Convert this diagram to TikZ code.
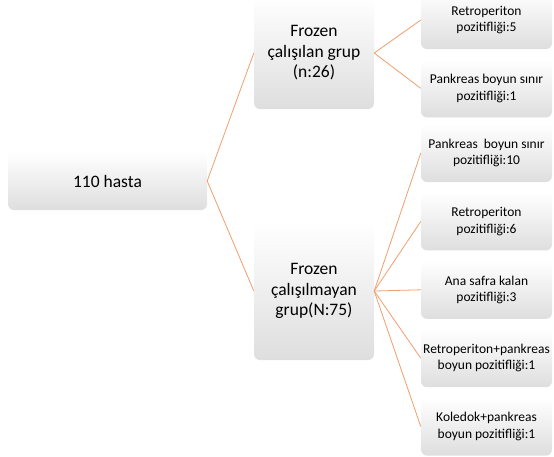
\documentclass[tikz,border=0pt]{standalone}
\usepackage{fontspec}
\setmainfont{Carlito}
\usetikzlibrary{positioning}
\definecolor{linkclr}{RGB}{240,158,108}

\begin{document}
\begin{tikzpicture}[x=1pt, y=-1pt, node distance=10pt,
    box/.style={rectangle, rounded corners=6pt, top color=white, middle color=black!2, bottom color=black!13, align=center, inner sep=2pt},
    bigbox/.style={box, font=\fontsize{17.5}{20.5}\selectfont},
    smallbox/.style={box, minimum width=131pt, minimum height=58pt, font=\fontsize{13.5}{16.5}\selectfont},
    link/.style={draw=linkclr, line width=0.8pt}]
    \useasboundingbox (0,0) rectangle (554,456);
    \clip (0,0) rectangle (554,456);

    % Root
    \node [bigbox, minimum width=199pt, minimum height=58pt] (root) at (107.5,181) {110 hasta};

    % Frozen group
    \node [bigbox, minimum width=120pt, minimum height=112pt] (frozen) at (314,53) {Frozen\\çalışılan grup\\(n:26)};
    \node [smallbox] (fr_retro) at (486.5,20) {Retroperiton\\pozitifliği:5};
    \node [smallbox, below=of fr_retro] (fr_pank) {Pankreas boyun sınır\\pozitifliği:1};

    % Non-frozen group
    \node [bigbox, minimum width=120pt, minimum height=138pt] (nofrozen) at (314,291) {Frozen\\çalışılmayan\\grup(N:75)};
    \node [smallbox] (nf_pank) at (486.5,153) {Pankreas~ boyun sınır\\pozitifliği:10};
    \node [smallbox, below=of nf_pank] (nf_retro) {Retroperiton\\pozitifliği:6};
    \node [smallbox, below=of nf_retro] (nf_safra) {Ana safra kalan\\pozitifliği:3};
    \node [smallbox, below=of nf_safra] (nf_retpank) {Retroperiton+pankreas\\boyun pozitifliği:1};
    \node [smallbox, below=of nf_retpank] (nf_koledok) {Koledok+pankreas\\boyun pozitifliği:1};

    % Connectors
    \draw [link] (root.east) -- (frozen.west);
    \draw [link] (root.east) -- (nofrozen.west);
    \draw [link] (frozen.east) -- (fr_retro.west);
    \draw [link] (frozen.east) -- (fr_pank.west);
    \draw [link] (nofrozen.east) -- (nf_pank.west);
    \draw [link] (nofrozen.east) -- (nf_retro.west);
    \draw [link] (nofrozen.east) -- (nf_safra.west);
    \draw [link] (nofrozen.east) -- (nf_retpank.west);
    \draw [link] (nofrozen.east) -- (nf_koledok.west);
\end{tikzpicture}
\end{document}
